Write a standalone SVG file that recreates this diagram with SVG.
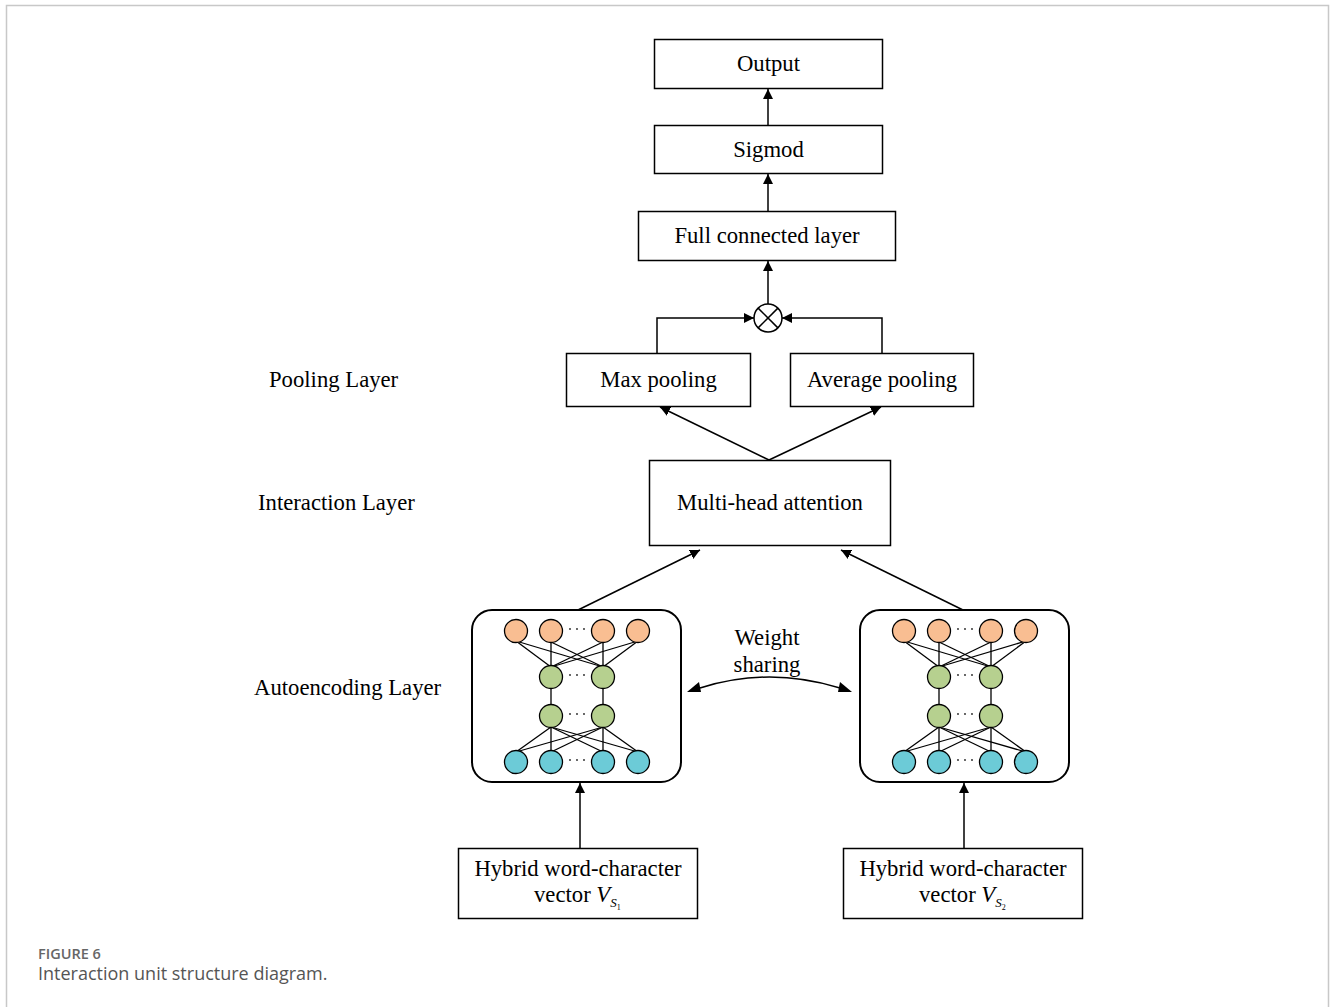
<svg xmlns="http://www.w3.org/2000/svg" width="1330" height="1007" viewBox="0 0 1330 1007">
  <style>
    .box { fill: #fff; stroke: #000; stroke-width: 1.5; }
    .ae { fill: #fff; stroke: #000; stroke-width: 2; }
    .lbl { font-family: "Liberation Serif", "Times New Roman", serif; font-size: 22.7px; fill: #000; }
    .mid { text-anchor: middle; }
    .wire { fill: none; stroke: #000; stroke-width: 1.5; }
    .edge { stroke: #000; stroke-width: 1.3; }
    .n { stroke: #000; stroke-width: 1.3; }
    .o { fill: #F9BE92; }
    .g { fill: #B6D08F; }
    .b { fill: #6CCBD7; }
    .dot { fill: #222; }
    .cap1 { font-family: "Open Sans", "Liberation Sans", sans-serif; font-size: 14.5px; font-weight: 600; fill: #666; }
    .cap2 { font-family: "Open Sans", "Liberation Sans", sans-serif; font-size: 18px; fill: #555; }
  </style>
  <defs>
    <marker id="ah" viewBox="0 0 10 10" refX="10" refY="5" markerWidth="10" markerHeight="10" markerUnits="userSpaceOnUse" orient="auto">
      <path d="M0,0 L10,5 L0,10 z" fill="#000"/>
    </marker>
    <!-- ellipsis between neurons -->
    <g id="ell">
      <circle class="dot" cx="-7" cy="-2" r="0.9"/>
      <circle class="dot" cx="0" cy="-2" r="0.9"/>
      <circle class="dot" cx="7" cy="-2" r="0.9"/>
    </g>
    <!-- one autoencoder block: 4 input, 2+2 hidden, 4 output neurons -->
    <g id="autoenc">
      <g class="edge">
        <line x1="0" y1="10" x2="35" y2="36"/><line x1="0" y1="10" x2="87" y2="36"/>
        <line x1="35" y1="11" x2="35" y2="35"/><line x1="35" y1="11" x2="87" y2="36"/>
        <line x1="87" y1="11" x2="35" y2="36"/><line x1="87" y1="11" x2="87" y2="35"/>
        <line x1="122" y1="10" x2="35" y2="36"/><line x1="122" y1="10" x2="87" y2="36"/>
        <line x1="35" y1="46" x2="35" y2="85"/><line x1="87" y1="46" x2="87" y2="85"/>
        <line x1="35" y1="96" x2="0" y2="121"/><line x1="35" y1="96" x2="35" y2="120"/>
        <line x1="35" y1="96" x2="87" y2="121"/><line x1="35" y1="96" x2="122" y2="121"/>
        <line x1="87" y1="96" x2="0" y2="121"/><line x1="87" y1="96" x2="35" y2="121"/>
        <line x1="87" y1="96" x2="87" y2="120"/><line x1="87" y1="96" x2="122" y2="121"/>
      </g>
      <circle class="n o" cx="0" cy="0" r="11.5"/>
      <circle class="n o" cx="35" cy="0" r="11.5"/>
      <circle class="n o" cx="87" cy="0" r="11.5"/>
      <circle class="n o" cx="122" cy="0" r="11.5"/>
      <circle class="n g" cx="35" cy="46" r="11.5"/>
      <circle class="n g" cx="87" cy="46" r="11.5"/>
      <circle class="n g" cx="35" cy="85" r="11.5"/>
      <circle class="n g" cx="87" cy="85" r="11.5"/>
      <circle class="n b" cx="0" cy="131" r="11.5"/>
      <circle class="n b" cx="35" cy="131" r="11.5"/>
      <circle class="n b" cx="87" cy="131" r="11.5"/>
      <circle class="n b" cx="122" cy="131" r="11.5"/>
      <use href="#ell" x="61" y="0"/>
      <use href="#ell" x="61" y="46"/>
      <use href="#ell" x="61" y="85"/>
      <use href="#ell" x="61" y="131"/>
    </g>
  </defs>

  <rect width="1330" height="1007" fill="#fff"/>
  <!-- figure frame -->
  <path d="M6.5,1007 V5.5 H1328.5 V1007" fill="none" stroke="#c8c8c8" stroke-width="1.5"/>

  <!-- layer labels -->
  <text class="lbl" x="269" y="387">Pooling Layer</text>
  <text class="lbl" x="258" y="510">Interaction Layer</text>
  <text class="lbl" x="254" y="695">Autoencoding Layer</text>

  <g id="connectors">
    <line class="wire" x1="768" y1="125" x2="768" y2="89" marker-end="url(#ah)"/>
    <line class="wire" x1="768" y1="211" x2="768" y2="174" marker-end="url(#ah)"/>
    <line class="wire" x1="768" y1="304" x2="768" y2="261" marker-end="url(#ah)"/>
    <polyline class="wire" points="657,353 657,318 754,318" marker-end="url(#ah)"/>
    <polyline class="wire" points="882,353 882,318 782,318" marker-end="url(#ah)"/>
    <line class="wire" x1="769" y1="460" x2="660" y2="407" marker-end="url(#ah)"/>
    <line class="wire" x1="769" y1="460" x2="881" y2="407" marker-end="url(#ah)"/>
    <line class="wire" x1="578" y1="610" x2="700" y2="550" marker-end="url(#ah)"/>
    <line class="wire" x1="963" y1="610" x2="841" y2="550" marker-end="url(#ah)"/>
    <line class="wire" x1="580" y1="848" x2="580" y2="783" marker-end="url(#ah)"/>
    <line class="wire" x1="964" y1="848" x2="964" y2="783" marker-end="url(#ah)"/>
    <path class="wire" d="M700,688 Q769,666 840,688"/>
    <path d="M687,692 L699,682 L701,692 z" fill="#000"/>
    <path d="M852,692 L840,682 L838,692 z" fill="#000"/>
  </g>

  <g id="output">
    <rect class="box" x="654.5" y="39.5" width="228" height="49"/>
    <text class="lbl mid" x="768.5" y="71">Output</text>
  </g>
  <g id="sigmod">
    <rect class="box" x="654.5" y="125.5" width="228" height="48"/>
    <text class="lbl mid" x="768.5" y="157">Sigmod</text>
  </g>
  <g id="full-connected">
    <rect class="box" x="638.5" y="211.5" width="257" height="49"/>
    <text class="lbl mid" x="767" y="243">Full connected layer</text>
  </g>
  <g id="product">
    <circle cx="768" cy="318" r="14" fill="#fff" stroke="#000" stroke-width="1.5"/>
    <line class="wire" x1="758.1" y1="308.1" x2="777.9" y2="327.9"/>
    <line class="wire" x1="777.9" y1="308.1" x2="758.1" y2="327.9"/>
  </g>
  <g id="max-pooling">
    <rect class="box" x="566.5" y="353.5" width="184" height="53"/>
    <text class="lbl mid" x="658.5" y="387">Max pooling</text>
  </g>
  <g id="average-pooling">
    <rect class="box" x="790.5" y="353.5" width="183" height="53"/>
    <text class="lbl mid" x="882" y="387">Average pooling</text>
  </g>
  <g id="multi-head-attention">
    <rect class="box" x="649.5" y="460.5" width="241" height="85"/>
    <text class="lbl mid" x="770" y="510">Multi-head attention</text>
  </g>
  <g id="autoencoder-1">
    <rect class="ae" x="472" y="610" width="209" height="172" rx="20"/>
    <use href="#autoenc" x="516" y="631"/>
  </g>
  <g id="autoencoder-2">
    <rect class="ae" x="860" y="610" width="209" height="172" rx="20"/>
    <use href="#autoenc" x="904" y="631"/>
  </g>
  <g id="weight-sharing">
    <text class="lbl mid" x="767" y="645">Weight</text>
    <text class="lbl mid" x="767" y="672">sharing</text>
  </g>
  <g id="input-1">
    <rect class="box" x="458.5" y="848.5" width="239" height="70"/>
    <text class="lbl mid" x="578" y="876">Hybrid word-character</text>
    <text class="lbl" x="534" y="902">vector <tspan font-style="italic">V</tspan><tspan font-style="italic" font-size="13" dy="5">S</tspan><tspan font-size="8" dy="3">1</tspan></text>
  </g>
  <g id="input-2">
    <rect class="box" x="843.5" y="848.5" width="239" height="70"/>
    <text class="lbl mid" x="963" y="876">Hybrid word-character</text>
    <text class="lbl" x="919" y="902">vector <tspan font-style="italic">V</tspan><tspan font-style="italic" font-size="13" dy="5">S</tspan><tspan font-size="8" dy="3">2</tspan></text>
  </g>

  <!-- caption -->
  <text class="cap1" x="38" y="959">FIGURE 6</text>
  <text class="cap2" x="38" y="980">Interaction unit structure diagram.</text>
</svg>
